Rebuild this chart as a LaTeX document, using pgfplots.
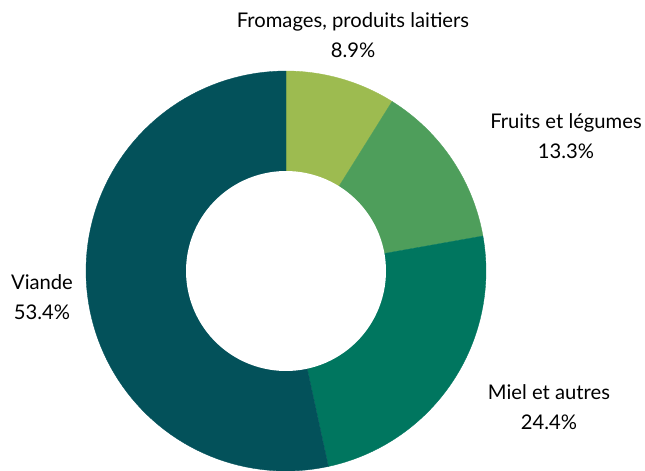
\documentclass[border=0pt]{standalone}
\usepackage{pgfplots}
\pgfplotsset{compat=1.18}
\usepackage{fontspec}
\setmainfont{Lato}
\definecolor{cFrom}{HTML}{9DBB50}
\definecolor{cFruit}{HTML}{4E9E5B}
\definecolor{cMiel}{HTML}{00765F}
\definecolor{cViande}{HTML}{03515A}
% slice: #1 cumulative start (%), #2 value (%), #3 colour
\newcommand{\slice}[3]{%
  \addplot[draw=#3, line width=0.2pt, fill=#3, domain={90-3.6*(#1+#2)}:{90-3.6*(#1)}, samples=90]
    ({cos(x)},{sin(x)}) -- (axis cs:0,0) -- cycle;
}
\begin{document}
\begin{tikzpicture}
\useasboundingbox (0,0) rectangle (12.9cm,9.4cm);
\begin{axis}[
  hide axis, scale only axis,
  width=12.9cm, height=9.4cm,
  xmin=-1.43, xmax=1.795, ymin=-0.995, ymax=1.355,
  clip=true,
]
\slice{0}{8.9}{cFrom}
\slice{8.9}{13.3}{cFruit}
\slice{22.2}{24.4}{cMiel}
\slice{46.6}{53.4}{cViande}
\addplot[draw=none, fill=white, domain=0:360, samples=120]
  ({0.5*cos(x)},{0.5*sin(x)}) -- cycle;
\begin{scope}[every node/.style={font=\fontsize{11.5}{17}\selectfont, align=center}]
\node at (axis cs:0.335,1.178) {Fromages, produits laitiers\\8.9\%};
\node at (axis cs:1.4,0.675) {Fruits et légumes\\13.3\%};
\node at (axis cs:1.315,-0.68) {Miel et autres\\24.4\%};
\node at (axis cs:-1.22,-0.13) {Viande\\53.4\%};
\end{scope}
\end{axis}
\end{tikzpicture}
\end{document}
